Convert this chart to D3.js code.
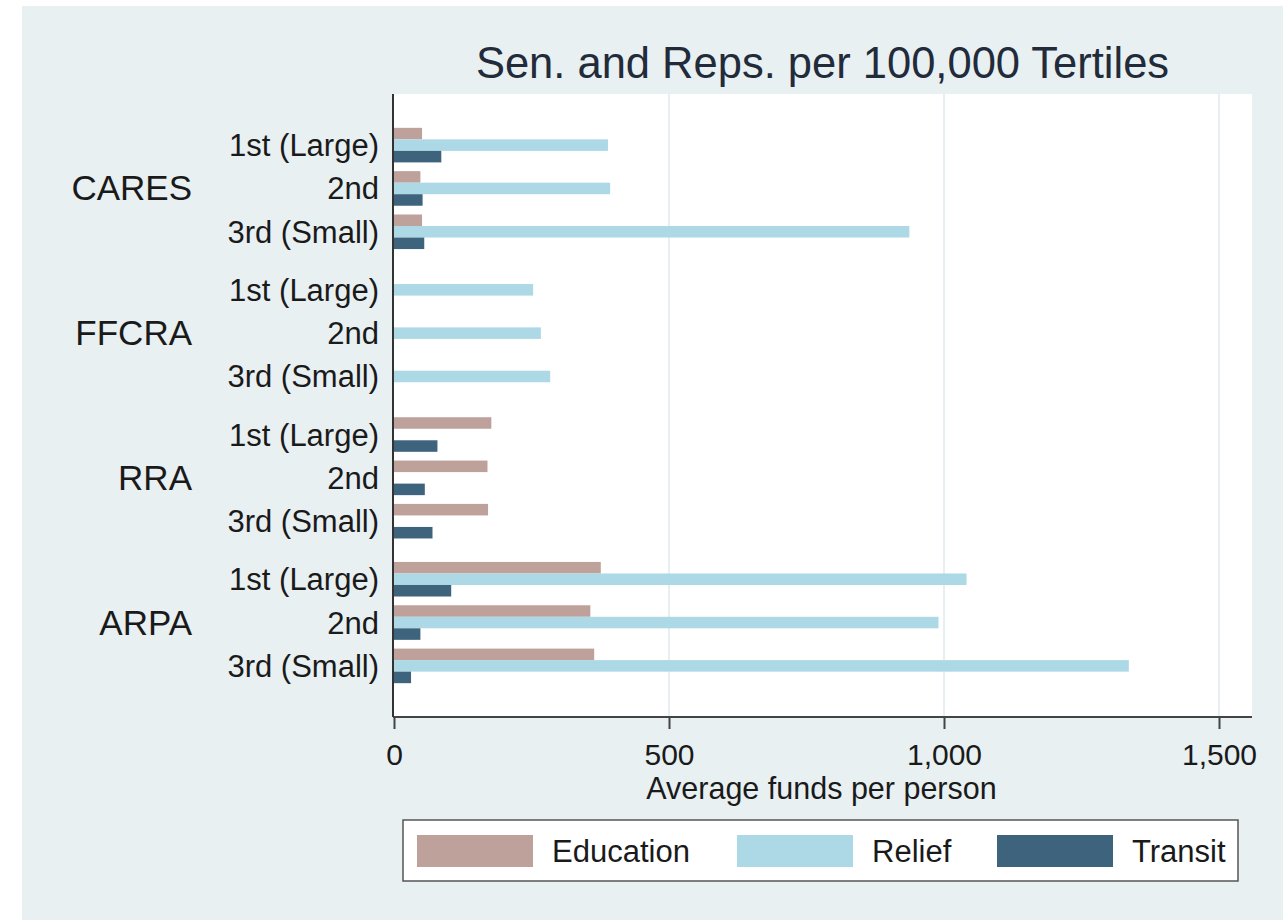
<!DOCTYPE html>
<html>
<head>
<meta charset="utf-8">
<script src="https://cdn.jsdelivr.net/npm/d3@7"></script>
<style>
  body { margin: 0; background: #fff; }
  text { font-family: "Liberation Sans", Arial, sans-serif; fill: #1a1a1a; }
</style>
</head>
<body>
<script>
// data
var laws = ["CARES", "FFCRA", "RRA", "ARPA"];
var tertiles = ["1st (Large)", "2nd", "3rd (Small)"];
var series = ["Education", "Relief", "Transit"];
var colors = ["#bfa19b", "#add8e6", "#3e637d"];

// one value per law x tertile, in the order of laws then tertiles
var education = [51, 48, 51, 0, 0, 0, 177, 170, 171, 376, 357, 364];
var relief = [389, 393, 937, 253, 267, 284, 0, 0, 0, 1041, 990, 1336];
var transit = [86, 52, 55, 0, 0, 0, 79, 56, 70, 104, 48, 31];

var xTicks = [0, 500, 1000, 1500];

var width = 1283, height = 920;
var plot = { left: 393, right: 1252, top: 94, bottom: 717 };

var rows = [];
laws.forEach(function(law, li) {
  tertiles.forEach(function(t, ti) {
    var k = li * 3 + ti;
    rows.push({ law: law, tertile: t, values: [education[k], relief[k], transit[k]] });
  });
});

var svg = d3.select("body")
    .append("svg")
    .attr("width", width)
    .attr("height", height);

// graph background
svg.append("rect")
    .attr("x", 22).attr("y", 6)
    .attr("width", width - 22).attr("height", height - 6)
    .style("fill", "#e8f0f2");

// plot region
svg.append("rect")
    .attr("x", plot.left).attr("y", plot.top)
    .attr("width", plot.right - plot.left).attr("height", plot.bottom - plot.top)
    .style("fill", "#fff");

// scales
var xscale = d3.scaleLinear()
    .domain([0, 1500])
    .range([394, 1219]);

var lawScale = d3.scaleBand()
    .domain(laws)
    .range([plot.top, plot.bottom])
    .paddingInner(0.1016)
    .paddingOuter(0.2035);

var tertScale = d3.scaleBand()
    .domain(tertiles)
    .range([0, lawScale.bandwidth()]);

var seriesScale = d3.scaleBand()
    .domain(series)
    .range([0, tertScale.bandwidth()])
    .paddingOuter(0.38);

// gridlines
svg.selectAll(".grid")
    .data(xTicks.filter(function(d) { return d > 0; }))
    .enter()
    .append("line")
    .attr("class", "grid")
    .attr("x1", function(d) { return xscale(d); })
    .attr("x2", function(d) { return xscale(d); })
    .attr("y1", plot.top)
    .attr("y2", plot.bottom)
    .style("stroke", "#e6eff1")
    .style("stroke-width", 2);

// bars
var rowG = svg.selectAll(".row")
    .data(rows)
    .enter()
    .append("g")
    .attr("class", "row")
    .attr("transform", function(d) {
      return "translate(0," + (lawScale(d.law) + tertScale(d.tertile)) + ")";
    });

rowG.selectAll("rect")
    .data(function(d) { return d.values; })
    .enter()
    .append("rect")
    .attr("x", xscale(0))
    .attr("y", function(d, i) { return seriesScale(series[i]); })
    .attr("height", seriesScale.bandwidth())
    .attr("width", function(d) { return xscale(d) - xscale(0); })
    .style("fill", function(d, i) { return colors[i]; });

// x axis
var xaxis = d3.axisBottom(xscale)
    .tickValues(xTicks)
    .tickSize(12)
    .tickFormat(d3.format(","));

var gx = svg.append("g")
    .attr("transform", "translate(0," + plot.bottom + ")")
    .call(xaxis);
gx.select(".domain").remove();
gx.selectAll(".tick line").style("stroke", "#444").style("stroke-width", 2);
gx.selectAll(".tick text")
    .attr("y", 48)
    .attr("dy", 0)
    .style("font-size", "30px");

svg.append("line")
    .attr("x1", plot.left).attr("x2", plot.right)
    .attr("y1", plot.bottom).attr("y2", plot.bottom)
    .style("stroke", "#444").style("stroke-width", 2);

svg.append("line")
    .attr("x1", plot.left).attr("x2", plot.left)
    .attr("y1", plot.top).attr("y2", plot.bottom)
    .style("stroke", "#333").style("stroke-width", 2);

// tertile labels
svg.selectAll(".tlabel")
    .data(rows)
    .enter()
    .append("text")
    .attr("class", "tlabel")
    .attr("x", 379)
    .attr("y", function(d) { return lawScale(d.law) + tertScale(d.tertile) + tertScale.bandwidth() / 2 + 11; })
    .attr("text-anchor", "end")
    .style("font-size", "31px")
    .text(function(d) { return d.tertile; });

// law labels
svg.selectAll(".llabel")
    .data(laws)
    .enter()
    .append("text")
    .attr("class", "llabel")
    .attr("x", 192)
    .attr("y", function(d) { return lawScale(d) + lawScale.bandwidth() / 2 + 12; })
    .attr("text-anchor", "end")
    .style("font-size", "35px")
    .text(function(d) { return d; });

// titles
svg.append("text")
    .attr("x", (plot.left + plot.right) / 2)
    .attr("y", 78)
    .attr("text-anchor", "middle")
    .style("font-size", "43.5px")
    .style("fill", "#222b3a")
    .text("Sen. and Reps. per 100,000 Tertiles");

svg.append("text")
    .attr("x", (plot.left + plot.right) / 2 - 1)
    .attr("y", 799)
    .attr("text-anchor", "middle")
    .style("font-size", "30.5px")
    .text("Average funds per person");

// legend
svg.append("rect")
    .attr("x", 403).attr("y", 820)
    .attr("width", 835).attr("height", 61)
    .style("fill", "#fff")
    .style("stroke", "#555")
    .style("stroke-width", 1.5);

var legendX = [417, 737, 997];
var leg = svg.selectAll(".legend")
    .data(series)
    .enter()
    .append("g")
    .attr("class", "legend")
    .attr("transform", function(d, i) { return "translate(" + legendX[i] + ",835)"; });

leg.append("rect")
    .attr("width", 116)
    .attr("height", 32)
    .style("fill", function(d, i) { return colors[i]; });

leg.append("text")
    .attr("x", 135)
    .attr("y", 27)
    .style("font-size", "31px")
    .text(function(d) { return d; });
</script>
</body>
</html>
